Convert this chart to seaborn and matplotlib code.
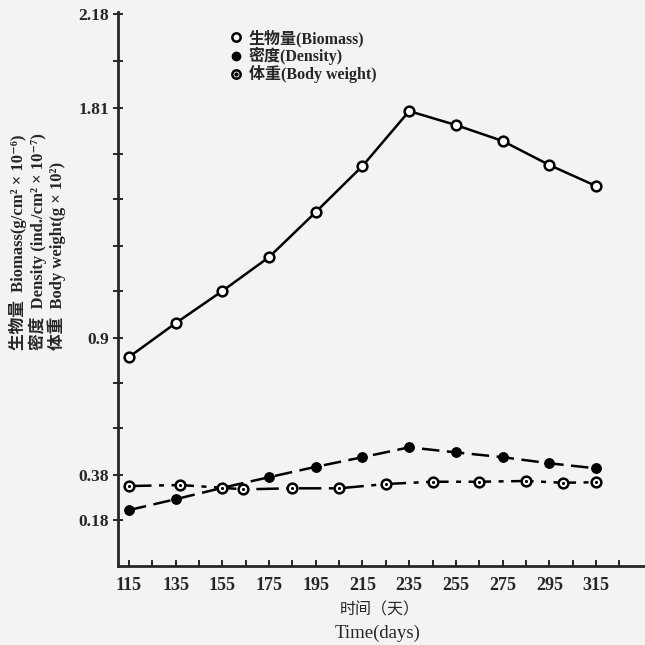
import matplotlib
matplotlib.use("Agg")
import pandas as pd
import matplotlib.pyplot as plt
import seaborn as sns
from matplotlib.lines import Line2D

# ----------------------------------------------------------------------------
# data
# ----------------------------------------------------------------------------
days = [115, 135, 155, 175, 195, 215, 235, 255, 275, 295, 315]
biomass = [0.826, 0.960, 1.087, 1.221, 1.399, 1.581, 1.798, 1.743, 1.680, 1.585, 1.502]
density = [0.221, 0.264, 0.309, 0.351, 0.392, 0.430, 0.469, 0.449, 0.430, 0.406, 0.386]
bw_days = [115, 137, 155, 164, 185, 205, 225, 245, 265, 285, 301, 315]
body_weight = [0.316, 0.320, 0.309, 0.303, 0.307, 0.307, 0.324, 0.333, 0.333, 0.336, 0.329, 0.331]

ytick_vals = [0.18, 0.36, 0.9, 1.81, 2.18]
ytick_labels = ['0.18', '0.38', '0.9', '1.81', '2.18']
yminor_vals = [0.545, 0.725, 1.085, 1.265, 1.45, 1.63, 1.995]
xtick_vals = list(range(115, 316, 20))
xminor_vals = list(range(125, 336, 20))

legend_labels = ['生物量(Biomass)', '密度(Density)', '体重(Body weight)']
ylabel_lines = ['生物量  Biomass(g/cm² × 10⁻⁶)',
                '密度  Density (ind./cm² × 10⁻⁷)',
                '体重  Body weight(g × 10²)']

df_main = pd.DataFrame({'day': days, 'biomass': biomass, 'density': density})
df_bw = pd.DataFrame({'day': bw_days, 'weight': body_weight})

# ----------------------------------------------------------------------------
# style
# ----------------------------------------------------------------------------
sns.set_style('ticks')
plt.rcParams['font.family'] = ['Liberation Serif', 'Noto Sans CJK SC', 'DejaVu Serif']
bg = '#f3f3f1'

fig = plt.figure(figsize=(6.45, 6.45), dpi=100, facecolor=bg)
ax = fig.add_axes([0.183, 0.1225, 0.817, 0.859])
ax.set_facecolor(bg)

# ----------------------------------------------------------------------------
# plot
# ----------------------------------------------------------------------------
open_kw = dict(marker='o', markersize=7, markerfacecolor='white',
               markeredgecolor='black', markeredgewidth=1.8)

sns.lineplot(data=df_main, x='day', y='biomass', ax=ax, color='black',
             linewidth=1.8, **open_kw)
sns.lineplot(data=df_main, x='day', y='density', ax=ax, color='black',
             linewidth=1.8, linestyle=(0, (7, 3)), marker='o', markersize=7,
             markerfacecolor='black', markeredgecolor='black')
sns.lineplot(data=df_bw, x='day', y='weight', ax=ax, color='black',
             linewidth=1.8, linestyle=(0, (9, 3, 2, 3)), **open_kw)
sns.scatterplot(data=df_bw, x='day', y='weight', ax=ax, color='black',
                s=5, linewidth=0, zorder=5)

ax.set_xlim(110.3, 336)
ax.set_ylim(0, 2.19)
ax.set_xticks(xtick_vals)
ax.set_xticklabels([str(d) for d in xtick_vals], fontsize=13, fontweight='bold')
ax.set_xticks(xminor_vals, minor=True)
ax.set_yticks(ytick_vals)
ax.set_yticklabels(ytick_labels, fontsize=12.5, fontweight='bold')
ax.set_yticks(yminor_vals, minor=True)
ax.tick_params(axis='x', which='both', direction='in', length=4, width=1.4, pad=8)
ax.tick_params(axis='y', which='both', direction='inout', length=7, width=1.4, pad=3)
for side in ['left', 'bottom']:
    ax.spines[side].set_linewidth(2)
sns.despine(ax=ax)
ax.set_xlabel('')
ax.set_ylabel('')

# legend
h_open = Line2D([], [], linestyle='none', marker='o', markersize=6,
                markerfacecolor='white', markeredgecolor='black', markeredgewidth=1.8)
h_fill = Line2D([], [], linestyle='none', marker='o', markersize=6,
                markerfacecolor='black', markeredgecolor='black')
h_dot = Line2D([], [], linestyle='none', marker='o', markersize=2,
               markerfacecolor='black', markeredgecolor='black')
ax.legend([h_open, h_fill, (h_open, h_dot)], legend_labels, loc='upper left',
          bbox_to_anchor=(0.2, 0.98), frameon=False, handlelength=0.8,
          handletextpad=0.4, labelspacing=0.0, borderaxespad=0,
          prop={'size': 11.5, 'weight': 'bold'})

# y-axis title: three stacked rotated lines, starting at the same height
for xpos, line in zip([0.028, 0.058, 0.088], ylabel_lines):
    fig.text(xpos, 0.457, line, rotation=90, ha='center', va='bottom',
             fontsize=12, fontweight='bold')

# x-axis title
fig.text(0.588, 0.054, '时间（天）', ha='center', va='center', fontsize=11.5)
fig.text(0.585, 0.018, 'Time(days)', ha='center', va='center', fontsize=13.5)

plt.savefig('out.png', dpi=100, facecolor=bg)
